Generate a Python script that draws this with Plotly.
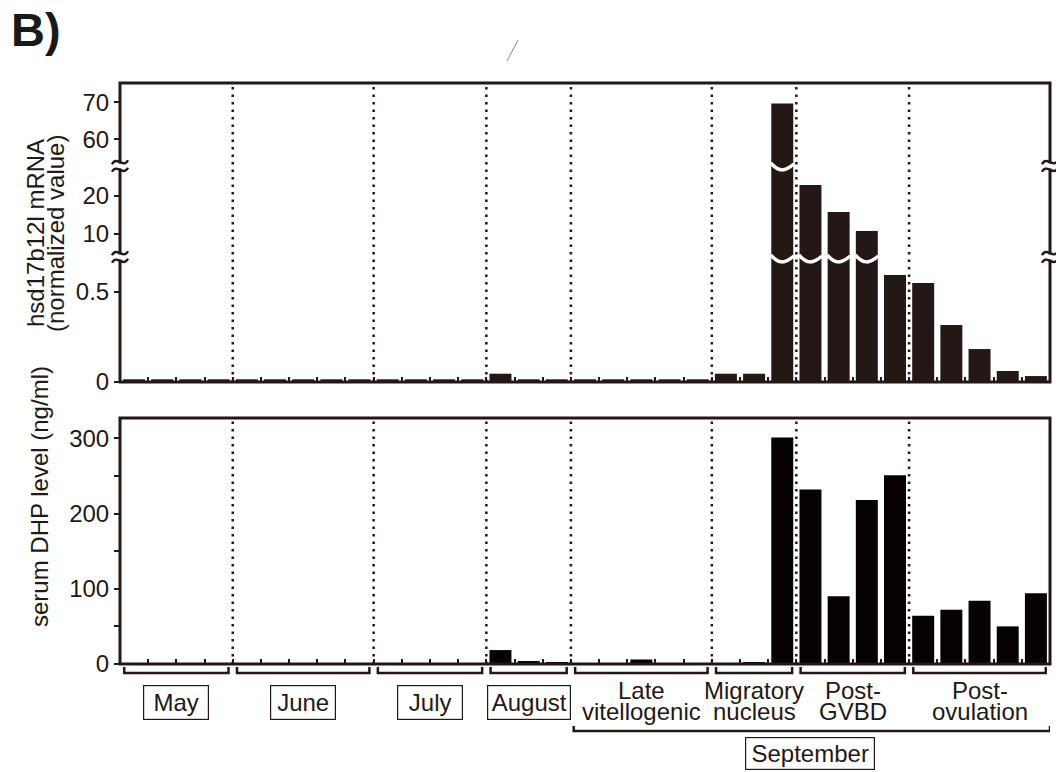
import plotly.graph_objects as go

# ---------------- data ----------------
stage_names = ["May", "June", "July", "August",
               "Late vitellogenic", "Migratory nucleus", "Post-GVBD", "Post-ovulation"]
stage_sizes = [4, 5, 4, 3, 5, 3, 4, 5]
stage_lines = {
    "Late vitellogenic": ["Late", "vitellogenic"],
    "Migratory nucleus": ["Migratory", "nucleus"],
    "Post-GVBD": ["Post-", "GVBD"],
    "Post-ovulation": ["Post-", "ovulation"],
}
month_label = "September"
month_stages = ["Late vitellogenic", "Migratory nucleus", "Post-GVBD", "Post-ovulation"]

# hsd17b12l mRNA (normalized value), one value per fish
hsd17b12l_mrna = [0.015, 0.015, 0.015, 0.015,
                  0.015, 0.015, 0.015, 0.015, 0.015,
                  0.015, 0.015, 0.015, 0.015,
                  0.046, 0.015, 0.015,
                  0.015, 0.015, 0.015, 0.015, 0.015,
                  0.046, 0.046, 69.7,
                  22.9, 15.8, 10.8, 0.594,
                  0.55, 0.317, 0.183, 0.061, 0.033]

# serum DHP level (ng/ml), one value per fish
serum_dhp = [0, 0, 0, 0,
             0, 0, 0, 0, 0,
             0, 0, 0, 0,
             18.5, 4, 2.5,
             0.5, 0.5, 6, 0.5, 0.5,
             0.5, 2.5, 301,
             232, 90, 218, 251,
             64, 72, 84, 50, 94]

mrna_ticks_low = [0, 0.5]
mrna_ticks_mid = [10, 20]
mrna_ticks_high = [60, 70]
dhp_ticks = [0, 100, 200, 300]
dhp_minor_ticks = [50, 150, 250]

# ---------------- geometry / style ----------------
W, H = 1056, 772
INK = "#231815"
BAR_TOP = "#231815"
BAR_BOT = "#070202"
FONT = "Liberation Sans, Arial, Helvetica, sans-serif"
FS = 24

L, R = 120, 1050                 # plot area, px
T_TOP, B_TOP = 83, 382           # upper panel
BRK_HI, BRK_LO = 166, 257        # axis breaks in upper panel
T_BOT, B_BOT = 418, 664          # lower panel

seg_low = [0, 0.694]
seg_mid = [3.947, 27.89]
seg_high = [52.78, 75.21]
dhp_range = [0, 327]


def X(p):
    return p / W


def Y(p):
    return 1 - p / H


n = len(hsd17b12l_mrna)
xs = list(range(n))
bar_w = 0.78

fig = go.Figure()
for ax in ["y", "y2", "y3"]:
    fig.add_trace(go.Bar(x=xs, y=hsd17b12l_mrna, xaxis="x", yaxis=ax, width=bar_w,
                         marker=dict(color=BAR_TOP, line=dict(width=0)),
                         showlegend=False, hoverinfo="skip"))
fig.add_trace(go.Bar(x=xs, y=serum_dhp, xaxis="x2", yaxis="y4", width=bar_w,
                     marker=dict(color=BAR_BOT, line=dict(width=0)),
                     showlegend=False, hoverinfo="skip"))

boundary_ticks = [i + 0.5 for i in range(n - 1)]
xcommon = dict(domain=[X(L), X(R)], range=[-0.5, n - 0.5], tickmode="array",
               tickvals=boundary_ticks, ticks="inside", ticklen=5, tickwidth=1.5,
               tickcolor=INK, showticklabels=False, showgrid=False, zeroline=False,
               showline=False, fixedrange=True, automargin=False)
ycommon = dict(anchor="x", tickmode="array", ticks="outside", ticklen=5, tickwidth=2,
               tickcolor=INK, showgrid=False, zeroline=False, showline=False,
               tickfont=dict(family=FONT, size=FS, color=INK), fixedrange=True,
               automargin=False)

fig.update_layout(
    width=W, height=H, autosize=False,
    margin=dict(l=0, r=0, t=0, b=0, pad=0, autoexpand=False),
    showlegend=False,
    paper_bgcolor="white", plot_bgcolor="rgba(0,0,0,0)",
    barmode="overlay", font=dict(family=FONT, size=FS, color=INK),
    xaxis=dict(anchor="y", **xcommon),
    xaxis2=dict(anchor="y4", matches="x", **xcommon),
    yaxis=dict(domain=[Y(B_TOP), Y(BRK_LO)], range=seg_low, tickvals=mrna_ticks_low,
               ticktext=[f"{v:g}" for v in mrna_ticks_low], **ycommon),
    yaxis2=dict(domain=[Y(BRK_LO), Y(BRK_HI)], range=seg_mid, tickvals=mrna_ticks_mid,
                ticktext=[f"{v:g}" for v in mrna_ticks_mid], **ycommon),
    yaxis3=dict(domain=[Y(BRK_HI), Y(T_TOP)], range=seg_high, tickvals=mrna_ticks_high,
                ticktext=[f"{v:g}" for v in mrna_ticks_high], **ycommon),
    yaxis4=dict(domain=[Y(B_BOT), Y(T_BOT)], range=dhp_range, tickvals=dhp_ticks,
                ticktext=[str(v) for v in dhp_ticks],
                minor=dict(tickvals=dhp_minor_ticks, ticks="outside", ticklen=5,
                           tickwidth=2, tickcolor=INK),
                **{**ycommon, "anchor": "x2"}),
)

shapes = []

# stage separators (dotted)
starts = []
acc = 0
for s in stage_sizes:
    starts.append(acc)
    acc += s
for st in starts[1:]:
    xb = st - 0.5
    for top, bot in [(T_TOP, B_TOP), (T_BOT, B_BOT)]:
        shapes.append(dict(type="line", xref="x", yref="paper", x0=xb, x1=xb,
                           y0=Y(bot), y1=Y(top),
                           line=dict(color=INK, width=2.5, dash="2.5px,5px")))

# white wavy cuts across bars that pass an axis break
def bar_wave(xc, yp):
    x0, x1 = xc - bar_w / 2 - 0.02, xc + bar_w / 2 + 0.02
    w = x1 - x0
    return (f"M {x0},{Y(yp - 3)} C {x0 + 0.35 * w},{Y(yp + 6)} "
            f"{x0 + 0.6 * w},{Y(yp + 6)} {x1},{Y(yp - 2)}")


for i, v in enumerate(hsd17b12l_mrna):
    if v > seg_low[1]:
        shapes.append(dict(type="path", xref="x", yref="paper", path=bar_wave(i, BRK_LO + 1),
                           line=dict(color="white", width=3.5)))
    if v > seg_mid[1]:
        shapes.append(dict(type="path", xref="x", yref="paper", path=bar_wave(i, BRK_HI),
                           line=dict(color="white", width=3.5)))

# panel frames
for top, bot in [(T_TOP, B_TOP), (T_BOT, B_BOT)]:
    shapes.append(dict(type="rect", xref="paper", yref="paper", x0=X(L), x1=X(R),
                       y0=Y(bot), y1=Y(top), line=dict(color=INK, width=3)))

# break symbols on both vertical axes
def tilde(xp0, xp1, yp):
    w = xp1 - xp0
    return (f"M {X(xp0)},{Y(yp + 2)} C {X(xp0 + 0.3 * w)},{Y(yp - 7)} "
            f"{X(xp0 + 0.7 * w)},{Y(yp + 7)} {X(xp1)},{Y(yp - 2)}")


for yb in [BRK_HI, BRK_LO]:
    for xa, xb in [(L - 8, L + 8), (R - 8, R + 8)]:
        shapes.append(dict(type="rect", xref="paper", yref="paper", x0=X(xa + 3), x1=X(xb - 3),
                           y0=Y(yb + 2.5), y1=Y(yb - 2.5), fillcolor="white",
                           line=dict(width=0)))
        for dy in (-3.8, 3.8):
            shapes.append(dict(type="path", xref="paper", yref="paper",
                               path=tilde(xa, xb, yb + dy), line=dict(color=INK, width=2.4)))

# stage brackets under the lower panel
def bracket(x0, x1, ytop, ybot):
    return f"M {x0},{Y(ytop)} L {x0},{Y(ybot)} L {x1},{Y(ybot)} L {x1},{Y(ytop)}"


for st, sz in zip(starts, stage_sizes):
    shapes.append(dict(type="path", xref="x", yref="paper",
                       path=bracket(st - 0.5 + 0.15, st + sz - 0.5 - 0.15, 667, 673),
                       line=dict(color=INK, width=2.5)))

first = starts[stage_names.index(month_stages[0])]
last_i = stage_names.index(month_stages[-1])
last = starts[last_i] + stage_sizes[last_i]
shapes.append(dict(type="path", xref="x", yref="paper",
                   path=bracket(first - 0.5 + 0.1, last - 0.5, 726, 731),
                   line=dict(color=INK, width=2.5)))

# small stroke at the top edge
shapes.append(dict(type="line", xref="paper", yref="paper", x0=X(507), x1=X(518),
                   y0=Y(61), y1=Y(40), line=dict(color="#888888", width=1)))

fig.update_layout(shapes=shapes)

# ---------------- text ----------------
ann = []
tfont = dict(family=FONT, size=FS, color=INK)
for name, st, sz in zip(stage_names, starts, stage_sizes):
    xc = st + (sz - 1) / 2
    if name in stage_lines:
        for line, yp in zip(stage_lines[name], [690.5, 711]):
            ann.append(dict(text=line, x=xc, y=Y(yp), xref="x", yref="paper",
                            xanchor="center", yanchor="middle", showarrow=False, font=tfont))
    else:
        bw = 80 if len(name) > 4 else 62
        ann.append(dict(text=name, x=xc, y=Y(702.5), xref="x", yref="paper",
                        xanchor="center", yanchor="middle", showarrow=False, font=tfont,
                        width=bw, height=31, borderpad=1, bordercolor=INK, borderwidth=1.2))

ann.append(dict(text=month_label, x=(first + last - 1) / 2, y=Y(753.5), xref="x", yref="paper",
                xanchor="center", yanchor="middle", showarrow=False, font=tfont,
                width=126, height=29, borderpad=1, bordercolor=INK, borderwidth=1.2))

# axis titles
ann.append(dict(text="hsd17b12l mRNA", x=X(35.5), y=Y(233.5), xref="paper", yref="paper",
                textangle=-90, xanchor="center", yanchor="middle", showarrow=False, font=tfont))
ann.append(dict(text="(normalized value)", x=X(55.5), y=Y(233.5), xref="paper", yref="paper",
                textangle=-90, xanchor="center", yanchor="middle", showarrow=False, font=tfont))
ann.append(dict(text="serum DHP level (ng/ml)", x=X(40), y=Y(497), xref="paper", yref="paper",
                textangle=-90, xanchor="center", yanchor="middle", showarrow=False, font=tfont))

# panel letter
ann.append(dict(text="<b>B)</b>", x=X(8.5), y=Y(29), xref="paper", yref="paper",
                xanchor="left", yanchor="middle", showarrow=False,
                font=dict(family=FONT, size=47, color="#1a1a1a")))

fig.update_layout(annotations=ann)

fig.write_html("out.html", config={"responsive": False, "displayModeBar": False})
